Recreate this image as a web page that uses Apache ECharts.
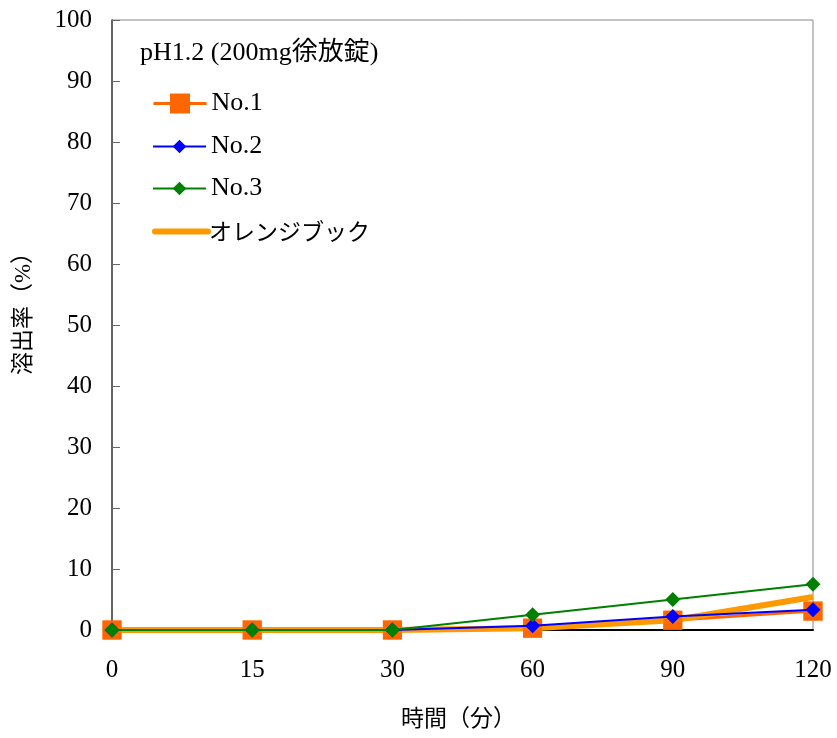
<!DOCTYPE html>
<html><head><meta charset="utf-8">
<script src="https://cdn.jsdelivr.net/npm/echarts@6/dist/echarts.min.js"></script>
<style>html,body{margin:0;padding:0;background:#fff}#c{width:837px;height:738px}</style>
</head><body><div id="c"></div>
<script>
const categories = ['0','15','30','60','90','120'];
const no1 = [0, 0, 0, 0.3, 1.6, 3.1];
const no2 = [0, 0, 0, 0.7, 2.2, 3.3];
const no3 = [0, 0, 0, 2.5, 5.0, 7.5];
const orangeBook = [0, 0, 0, 0.3, 1.6, 5.4];
const yTicks = {min: 0, max: 100, interval: 10};
const titleText = 'pH1.2 (200mg徐放錠)';
const xName = '時間（分）';
const yName = '溶出率（%）';

const FONT = '"Liberation Serif","Times New Roman","Noto Sans CJK JP",serif';
const FS = 25;
const legendText = {fontFamily: FONT, fontSize: 26, color: '#000'};
function leg(name, centerY, h, extra) {
  return Object.assign({
    data: [name], orient: 'vertical', left: 152, top: centerY - h / 2, padding: 0,
    itemWidth: 53, itemHeight: h, textStyle: legendText
  }, extra || {});
}
const chart = echarts.init(document.getElementById('c'));
chart.setOption({
  animation: false,
  backgroundColor: '#fff',
  textStyle: {fontFamily: FONT},
  grid: {left: 112, right: 24, top: 20, bottom: 108, show: true, borderColor: '#888', borderWidth: 1},
  title: {text: titleText, left: 135, top: 35, textStyle: {fontFamily: FONT, fontSize: 26, fontWeight: 'normal', color: '#000'}},
  legend: [
    leg('No.1', 103, 25, {lineStyle: {width: 3}}),
    leg('No.2', 142, 17, {lineStyle: {width: 2}}),
    leg('No.3', 184, 17, {lineStyle: {width: 2}}),
    {
      data: [{name: 'オレンジブック', itemStyle: {opacity: 0}, lineStyle: {width: 6, cap: 'round'}}],
      orient: 'vertical', left: 152, top: 230 - 10, padding: 0,
      itemWidth: 53, itemHeight: 20,
      textStyle: {fontFamily: '"Noto Sans CJK JP",sans-serif', fontSize: 23, color: '#000', padding: [0, 0, 0, -4]}
    }
  ],
  xAxis: {
    type: 'category', data: categories, boundaryGap: false,
    axisLine: {lineStyle: {color: '#000', width: 2}},
    axisTick: {show: false},
    axisLabel: {fontFamily: FONT, fontSize: FS, color: '#000', margin: 28},
    name: xName, nameLocation: 'middle', nameGap: 78,
    nameTextStyle: {fontFamily: FONT, fontSize: 23, color: '#000', padding: [0, 8, 0, 0]}
  },
  yAxis: {
    type: 'value', min: yTicks.min, max: yTicks.max, interval: yTicks.interval,
    axisLine: {show: true, lineStyle: {color: '#444', width: 1.5}},
    axisTick: {show: true, inside: true, length: 8, lineStyle: {color: '#666'}},
    splitLine: {show: false},
    axisLabel: {fontFamily: FONT, fontSize: FS, color: '#000', margin: 20},
    name: yName, nameLocation: 'middle', nameGap: 77, nameRotate: 90,
    nameTextStyle: {fontFamily: FONT, fontSize: 23, color: '#000', padding: [0, 0, 0, 34]}
  },
  series: [
    {name: 'No.1', type: 'line', data: no1, symbol: 'rect', symbolSize: 19,
     itemStyle: {color: '#FF6600'}, lineStyle: {color: '#FF6600', width: 3}, z: 2},
    {name: 'オレンジブック', type: 'line', data: orangeBook, symbol: 'none',
     itemStyle: {color: '#FF9900'}, lineStyle: {color: '#FF9900', width: 6}, z: 3},
    {name: 'No.1', type: 'scatter', data: no1, symbol: 'rect', symbolSize: 19,
     itemStyle: {color: '#FF6600'}, z: 4},
    {name: 'No.2', type: 'line', data: no2, symbol: 'diamond', symbolSize: 15,
     itemStyle: {color: '#0000FF'}, lineStyle: {color: '#0000FF', width: 2}, z: 5},
    {name: 'No.3', type: 'line', data: no3, symbol: 'diamond', symbolSize: 15,
     itemStyle: {color: '#008000'}, lineStyle: {color: '#008000', width: 2}, z: 6}
  ]
});
</script></body></html>
